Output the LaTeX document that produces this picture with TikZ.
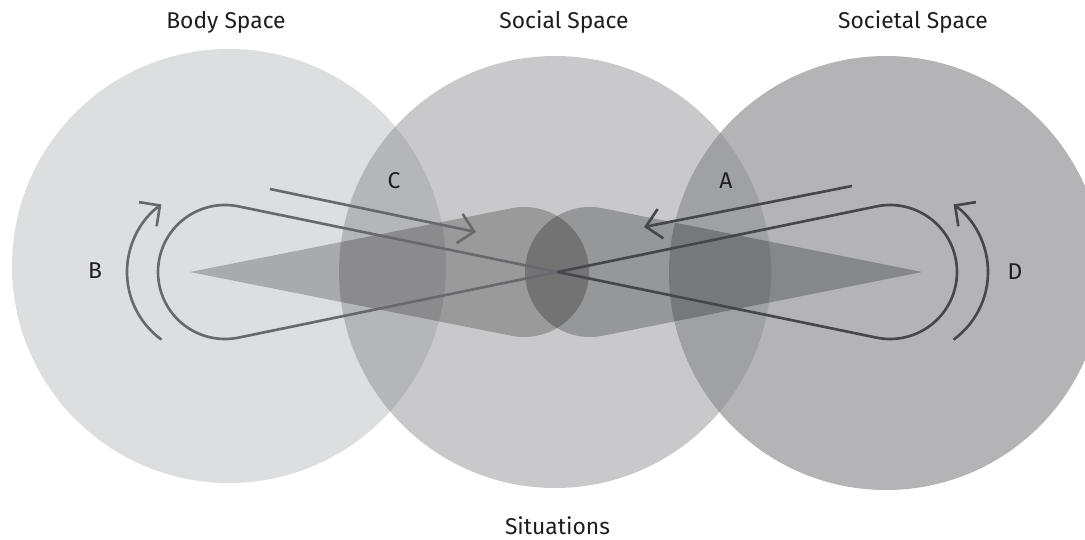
\documentclass[tikz,border=0pt]{standalone}
\usepackage{fontspec}
\setmainfont{Fira Sans}
\usetikzlibrary{arrows.meta}

\definecolor{bodyfill}{RGB}{221,222,224}
\definecolor{socialfill}{RGB}{132,133,136}
\definecolor{societalfill}{RGB}{136,137,140}
\definecolor{lightline}{RGB}{104,105,108}
\definecolor{darkline}{RGB}{70,71,74}
\definecolor{labeltext}{RGB}{30,30,32}

\begin{document}
\begin{tikzpicture}[
    x=0.02cm, y=0.02cm,
    every node/.style={font=\fontsize{13}{15}\selectfont, text=labeltext, inner sep=0pt},
    wedge/.style={fill=black, fill opacity=0.23},
    loopline/.style={line width=1.5pt},
    barb/.style={-{Straight Barb[length=8.5pt, width=17pt]}, line width=1.5pt}
]
\useasboundingbox (0,0) rectangle (1085,539);

% Centres
\coordinate (bodyc) at (229,273);
\coordinate (socialc) at (555,267);
\coordinate (societalc) at (886,266);
\coordinate (ltip) at (190,267);
\coordinate (lhead) at (524,267);
\coordinate (rtip) at (922,267);
\coordinate (rhead) at (590,267);
\coordinate (lloop) at (225,267);
\coordinate (rloop) at (890,267);
\coordinate (cross) at (557.5,267);
\coordinate (barc) at (210.6,267);
\coordinate (darc) at (904.4,267);

% Spaces
\fill[bodyfill] (bodyc) circle[radius=217];
\fill[socialfill, fill opacity=0.44] (socialc) circle[radius=216];
\fill[societalfill, fill opacity=0.63] (societalc) circle[radius=217];

% Wedges
\fill[wedge] (ltip) -- ([shift={(101.22:65)}]lhead)
    arc[start angle=101.22, end angle=-101.22, radius=65] -- cycle;
\fill[wedge, fill opacity=0.25] (rtip) -- ([shift={(78.7:65)}]rhead)
    arc[start angle=78.7, end angle=281.3, radius=65] -- cycle;

% Loop
\draw[loopline, lightline] (cross) -- ([shift={(78.37:67)}]lloop)
    arc[start angle=78.37, end angle=281.63, radius=67] -- (cross);
\draw[loopline, darkline] (cross) -- ([shift={(101.63:67)}]rloop)
    arc[start angle=101.63, end angle=-101.63, radius=67] -- (cross);

% Arrows
\draw[barb, lightline] ([shift={(234:83.6)}]barc) arc[start angle=234, end angle=126, radius=83.6];
\draw[barb, darkline] ([shift={(-54:83.6)}]darc) arc[start angle=-54, end angle=54, radius=83.6];
\coordinate (cstart) at (270,350);
\coordinate (cend) at (476,307);
\coordinate (astart) at (852,353);
\coordinate (aend) at (644,312);
\draw[barb, lightline] (cstart) -- (cend);
\draw[barb, darkline] (astart) -- (aend);

% Labels
\node[anchor=base] (body) at (226,511) {Body Space};
\node[anchor=base] (social) at (564,511) {Social Space};
\node[anchor=base] (societal) at (913,511) {Societal Space};
\node[anchor=base] (situations) at (557.5,5) {Situations};
\node (labB) at (95,268) {B};
\node (labD) at (1015,267) {D};
\node (labC) at (394,358) {C};
\node (labA) at (726,358) {A};
\end{tikzpicture}
\end{document}
